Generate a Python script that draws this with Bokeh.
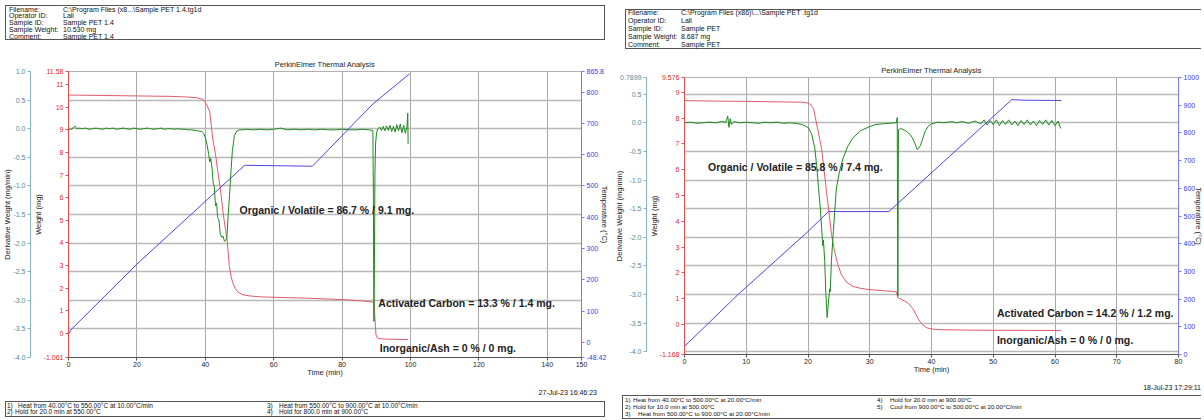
from bokeh.plotting import figure
from bokeh.models import Range1d, LinearAxis, FixedTicker, Grid, Label, Div
from bokeh.layouts import row, column
from bokeh.embed import file_html
from bokeh.resources import INLINE

# ---------------- LEFT RUN : Sample PET 1.4 ----------------
L_w_time = [0, 10, 20, 30, 35, 37.5, 39.3, 40.3, 41.3, 42.2, 43.0, 43.7, 44.4, 45.0, 45.5, 46.0, 46.4,
            47.0, 47.5, 48.0, 48.7, 49.6, 51, 53, 56, 60, 65, 70, 75, 80, 85, 88.5, 89.3, 89.6, 89.9,
            90.3, 91, 93, 96, 99.3]
L_w_mg = [10.54, 10.52, 10.50, 10.48, 10.45, 10.42, 10.35, 10.15, 9.80, 8.60, 7.90, 7.10, 6.40, 5.60,
          5.00, 4.50, 4.10, 3.00, 2.55, 2.25, 2.00, 1.82, 1.71, 1.66, 1.62, 1.60, 1.58, 1.56, 1.53,
          1.50, 1.45, 1.40, 1.37, 0.70, -0.05, -0.20, -0.23, -0.25, -0.26, -0.27]

L_d_time = [0, 0.5, 1.0, 1.5, 2.0, 2.4, 3.0, 4, 5, 6, 7, 8, 9, 10, 11, 12, 13, 14, 15, 16, 17, 18,
            19, 20, 21, 22, 23, 24, 25, 26, 27, 28, 29, 30, 31, 32, 33, 34, 35, 36, 37, 38, 39.0,
            39.5, 40.0, 40.5, 41.0, 41.3, 41.6, 42.0, 42.3, 42.6, 43.0, 43.3, 43.6, 44.0, 44.4, 44.8,
            45.2, 45.6, 46.0, 46.3, 46.7, 47.1, 47.5, 47.9, 48.5, 49.2, 50, 51, 52, 54, 56, 58, 60,
            62, 64, 66, 68, 70, 72, 74, 76, 78, 80, 82, 84, 86, 88, 89.0, 89.15, 89.3, 89.45, 89.6,
            89.8, 90.1, 90.5, 91, 91.5, 92, 92.5, 93, 93.5, 94, 94.5, 95, 95.5, 96, 96.5, 97, 97.5,
            98, 98.5, 99.0, 99.2, 99.3]
L_d_val = [-0.03, 0.00, -0.01, 0.03, 0.04, 0.00, 0.01, 0.00, 0.01, -0.01, 0.00, 0.01, 0.00, -0.01,
           0.01, 0.00, 0.01, -0.01, 0.00, 0.01, 0.00, -0.01, 0.01, 0.00, -0.01, 0.00, 0.01, 0.00,
           -0.01, 0.00, 0.01, -0.01, 0.00, 0.00, -0.01, 0.00, -0.01, -0.01, -0.02, -0.02, -0.03,
           -0.04, -0.05, -0.08, -0.15, -0.28, -0.45, -0.58, -0.52, -0.70, -0.95, -1.00, -1.35, -1.30,
           -1.55, -1.60, -1.85, -1.90, -1.88, -1.97, -1.95, -1.90, -1.50, -1.15, -0.75, -0.40, -0.12,
           -0.04, -0.02, -0.02, -0.01, -0.02, -0.01, -0.02, -0.01, 0.01, -0.02, -0.01, -0.02, -0.01,
           -0.02, -0.01, -0.02, -0.02, -0.01, -0.02, -0.02, -0.01, -0.02, -0.03, -1.20, -3.37, -2.40,
           -0.80, -0.25, -0.06, 0.00, 0.03, -0.03, 0.04, -0.04, 0.05, -0.03, 0.06, -0.05, 0.04, -0.06,
           0.07, -0.04, 0.08, -0.07, 0.06, -0.08, 0.05, 0.27, -0.27]

L_t_time = [0, 0.7, 20, 51.5, 71.3, 89, 99.7]
L_t_degC = [26, 40, 250, 566, 563, 762, 858]

L_x_ticks = [0, 20, 40, 60, 80, 100, 120, 140, 150]
L_w_ticks = [-1.061, 0, 1, 2, 3, 4, 5, 6, 7, 8, 9, 10, 11, 11.58]
L_w_labels = ["-1.061", "0", "1", "2", "3", "4", "5", "6", "7", "8", "9", "10", "11", "11.58"]
L_d_ticks = [-4.0, -3.5, -3.0, -2.5, -2.0, -1.5, -1.0, -0.5, 0.0, 0.5, 1.0]
L_d_labels = ["-4.0", "-3.5", "-3.0", "-2.5", "-2.0", "-1.5", "-1.0", "-0.5", "0.0", "0.5", "1.0"]
L_T_ticks = [-48.42, 0, 100, 200, 300, 400, 500, 600, 700, 800, 865.8]
L_T_labels = ["-48.42", "0", "100", "200", "300", "400", "500", "600", "700", "800", "865.8"]
L_notes = ["Organic / Volatile = 86.7 % / 9.1 mg.", "Activated Carbon = 13.3 % / 1.4 mg.",
           "Inorganic/Ash = 0 % / 0 mg."]
L_header = [("Filename:", "C:\\Program Files (x8...\\Sample PET 1.4.tg1d"), ("Operator ID:", "Lali"),
            ("Sample ID:", "Sample PET 1.4"), ("Sample Weight:", "10.530 mg"), ("Comment:", "Sample PET 1.4")]
L_date = "27-Jul-23 16:46:23"
L_steps = [("1)", "Heat from 40.00°C to 550.00°C at 10.00°C/min"), ("2)", "Hold for 20.0 min at 550.00°C"),
           ("3)", "Heat from 550.00°C to 900.00°C at 10.00°C/min"), ("4)", "Hold for 800.0 min at 900.00°C")]

# ---------------- RIGHT RUN : Sample PET ----------------
R_w_time = [0, 5, 10, 15, 19, 20.1, 20.5, 20.9, 22.2, 23.0, 23.8, 24.3, 24.8, 25.4, 26.2, 27.3, 28.5,
            29.9, 32, 34.3, 34.55, 35.3, 36.3, 37.0, 37.5, 37.9, 38.5, 39.3, 40.6, 45, 50, 55, 61]
R_w_mg = [8.68, 8.66, 8.65, 8.63, 8.62, 8.58, 8.50, 8.37, 6.82, 5.15, 3.50, 2.83, 2.35, 1.93, 1.65,
          1.47, 1.40, 1.35, 1.31, 1.27, 1.04, 0.95, 0.81, 0.60, 0.38, 0.19, 0.00, -0.14, -0.20, -0.22,
          -0.23, -0.23, -0.24]

R_d_time = [0, 1, 2, 3, 4, 5, 6, 6.7, 7.0, 7.2, 7.4, 7.6, 8, 9, 10, 11, 12, 13, 14, 15, 16, 17, 18,
            19, 19.6, 20.1, 20.6, 21.1, 21.4, 21.7, 22.0, 22.2, 22.4, 22.5, 22.7, 22.9, 23.1, 23.3,
            23.5, 23.6, 23.8, 24.1, 24.6, 25.1, 25.7, 26.5, 27.3, 28.5, 29.9, 31, 32, 33, 34.3, 34.45,
            34.55, 34.65, 35.0, 35.8, 36.5, 36.9, 37.3, 37.7, 38.2, 38.6, 39.0, 39.5, 40.0, 41, 42,
            43.3, 44, 45, 46, 47, 48, 48.5, 49, 49.5, 50, 50.5, 51, 51.5, 52, 52.5, 53, 53.5, 54, 54.5,
            55, 55.5, 56, 56.5, 57, 57.5, 58, 58.5, 59, 59.5, 60, 60.5, 60.9]
R_d_val = [0.00, 0.01, -0.01, 0.00, 0.01, 0.00, 0.02, 0.01, 0.12, -0.08, 0.07, -0.03, 0.02, 0.00,
           0.01, 0.00, -0.01, 0.01, 0.00, 0.01, -0.01, 0.00, -0.01, -0.03, -0.06, -0.09, -0.20, -0.44,
           -0.75, -1.13, -1.50, -1.83, -2.15, -2.05, -2.40, -3.00, -3.40, -3.15, -2.90, -2.95, -2.40,
           -1.90, -1.14, -0.85, -0.61, -0.40, -0.26, -0.14, -0.07, -0.03, -0.02, -0.01, 0.00, 0.09,
           -3.03, -0.12, -0.10, -0.14, -0.20, -0.26, -0.36, -0.47, -0.40, -0.27, -0.14, -0.06, -0.02,
           0.01, 0.00, 0.02, 0.00, 0.02, -0.01, 0.03, -0.02, 0.05, -0.04, 0.04, -0.03, 0.05, -0.05,
           0.04, -0.03, 0.05, -0.04, 0.03, -0.05, 0.04, -0.03, 0.05, -0.04, 0.03, -0.05, 0.04, -0.03,
           0.05, -0.04, 0.04, -0.05, 0.03, -0.10]

R_t_time = [0, 0.6, 8.6, 20, 23.3, 33.1, 53, 55, 61]
R_t_degC = [30, 42, 215, 444, 516, 516, 920, 918, 917]

R_x_ticks = [0, 10, 20, 30, 40, 50, 60, 70, 80]
R_w_ticks = [-1.168, 0, 1, 2, 3, 4, 5, 6, 7, 8, 9, 9.576]
R_w_labels = ["-1.168", "0", "1", "2", "3", "4", "5", "6", "7", "8", "9", "9.576"]
R_d_ticks = [-4.0, -3.5, -3.0, -2.5, -2.0, -1.5, -1.0, -0.5, 0.0, 0.5, 0.7899]
R_d_labels = ["-4.0", "-3.5", "-3.0", "-2.5", "-2.0", "-1.5", "-1.0", "-0.5", "0.0", "0.5", "0.7899"]
R_T_ticks = [0, 100, 200, 300, 400, 500, 600, 700, 800, 900, 1000]
R_T_labels = ["0", "100", "200", "300", "400", "500", "600", "700", "800", "900", "1000"]
R_notes = ["Organic / Volatile = 85.8 % / 7.4 mg.", "Activated Carbon = 14.2 % / 1.2 mg.",
           "Inorganic/Ash = 0 % / 0 mg."]
R_header = [("Filename:", "C:\\Program Files (x86)\\...\\Sample PET .tg1d"), ("Operator ID:", "Lali"),
            ("Sample ID:", "Sample PET"), ("Sample Weight:", "8.687 mg"), ("Comment:", "Sample PET")]
R_date = "18-Jul-23 17:29:11"
R_steps = [("1)", "Heat from 40.00°C to 500.00°C at 20.00°C/min"), ("2)", "Hold for 10.0 min at 500.00°C"),
           ("3)", "Heat from 500.00°C to 900.00°C at 20.00°C/min"), ("4)", "Hold for 20.0 min at 900.00°C"),
           ("5)", "Cool from 900.00°C to 500.00°C at 20.00°C/min")]

# ---------------- styling ----------------
FONT = "Liberation Sans"
CSSFONT = "'Liberation Sans', Arial, sans-serif"
C_W, C_WA = "#e05a68", "#e02828"
C_D, C_DA, C_DL = "#1e8a1e", "#86b4ba", "#4f8c95"
C_T, C_TA, C_TL = "#4f46e0", "#7a7af0", "#3a3ae8"
HOST = {"font-size": "0px", "line-height": "0px"}


def style_axis(ax, ticks, labels, line_c, lab_c, title, label_standoff, tick_standoff=2):
    ax.ticker = FixedTicker(ticks=ticks)
    ax.major_label_overrides = {t: l for t, l in zip(ticks, labels)}
    ax.axis_line_color = line_c
    ax.major_tick_line_color = line_c
    ax.minor_tick_line_color = None
    ax.major_tick_in = 0
    ax.major_tick_out = 3
    ax.major_label_standoff = tick_standoff
    ax.major_label_text_color = lab_c
    ax.major_label_text_font = FONT
    ax.major_label_text_font_size = "7px"
    ax.axis_label = title
    ax.axis_label_text_font = FONT
    ax.axis_label_text_font_size = "7.5px"
    ax.axis_label_text_font_style = "normal"
    ax.axis_label_text_color = "#222222"
    ax.axis_label_standoff = label_standoff


def panel(xr, x_ticks, w_ticks, w_labels, d_range, d_ticks, d_labels, T_range, T_ticks, T_labels,
          wt, wv, dt, dv, tt, tv, notes, note_pos, fw, fh, mbl, mbr, mbt, mbb, so_w, so_d, so_t):
    p = figure(frame_width=fw, frame_height=fh, x_range=Range1d(*xr),
               y_range=Range1d(w_ticks[0], w_ticks[-1]),
               output_backend="svg", toolbar_location=None,
               min_border_left=mbl, min_border_right=mbr, min_border_top=mbt, min_border_bottom=mbb,
               title="PerkinElmer Thermal Analysis")
    p.title.align = "center"
    p.title.text_font = FONT
    p.title.text_font_size = "7.5px"
    p.title.text_font_style = "normal"
    p.title.text_color = "#222222"
    p.title.standoff = 6
    p.outline_line_color = "#b0b0b0"
    p.extra_y_ranges = {"deriv": Range1d(*d_range), "temp": Range1d(*T_range)}

    style_axis(p.xaxis[0], x_ticks, [str(v) for v in x_ticks], "#555555", "#222222", "Time (min)", -2, 1)
    style_axis(p.yaxis[0], w_ticks, w_labels, "#e05050", C_WA, "Weight (mg)", so_w)

    dax = LinearAxis(y_range_name="deriv")
    style_axis(dax, d_ticks, d_labels, C_DA, C_DL, "Derivative Weight (mg/min)", so_d)
    dax.bounds = (d_ticks[0], d_ticks[-1])
    p.add_layout(dax, "left")

    tax = LinearAxis(y_range_name="temp")
    style_axis(tax, T_ticks, T_labels, C_TA, C_TL, "Temperature (°C)", so_t)
    p.add_layout(tax, "right")

    p.ygrid.visible = False
    p.xgrid.grid_line_color = "#a8a8a8"
    p.xgrid.grid_line_width = 1
    hg = Grid(dimension=1, ticker=FixedTicker(ticks=d_ticks), y_range_name="deriv",
              grid_line_color="#b8b8b8", grid_line_width=1.3)
    p.add_layout(hg)

    p.line(wt, wv, line_color=C_W, line_width=1)
    p.line(dt, dv, line_color=C_D, line_width=1, y_range_name="deriv")
    p.line(tt, tv, line_color=C_T, line_width=1, y_range_name="temp")

    for txt, (x, y) in zip(notes, note_pos):
        p.add_layout(Label(x=x, y=y, text=txt, text_font=FONT, text_font_size="10.5px",
                           text_font_style="bold", text_color="#222222", text_baseline="middle"))
    return p


def span(t, x, y, fs, anchor="left"):
    return (f'<span style="position:absolute;{anchor}:{x}px;top:{y}px;font-size:{fs}px;'
            f'line-height:{fs}px;">{t}</span>')


def block_div(width, height, boxes, spans):
    """boxes: (left, top, w, h, right_border); spans: html strings"""
    parts = []
    for (bl, bt, bw, bh, rb) in boxes:
        rbs = "1px solid #555" if rb else "none"
        parts.append(f'<div style="position:absolute;left:{bl}px;top:{bt}px;width:{bw}px;height:{bh}px;'
                     f'box-sizing:border-box;border:1px solid #555;border-right:{rbs};"></div>')
    html = (f'<div style="position:relative;display:block;margin:0;padding:0;width:{width}px;height:{height}px;'
            f'overflow:hidden;font-family:{CSSFONT};color:#111;white-space:pre;">'
            + "".join(parts) + "".join(spans) + '</div>')
    return Div(text=html, width=width, height=height, styles=HOST)


# ---------------- left column ----------------
pL = panel((0, 150), L_x_ticks, L_w_ticks, L_w_labels, (-4.0, 1.0), L_d_ticks, L_d_labels,
           (-48.42, 865.8), L_T_ticks, L_T_labels, L_w_time, L_w_mg, L_d_time, L_d_val,
           L_t_time, L_t_degC, L_notes, [(50.0, 5.44), (90.6, 1.33), (91.0, -0.66)],
           fw=513, fh=286, mbl=58, mbr=20, mbt=26, mbb=25, so_w=-2, so_d=-2, so_t=-9)
hL_sp = []
for i, (k, v) in enumerate(L_header):
    hL_sp += [span(k, 4, 0.5 + 6.8 * i, 7), span(v, 58, 0.5 + 6.8 * i, 7)]
hL = block_div(600, 35, [(0, 0, 600, 35, True)], hL_sp)
bL_sp = [span(L_date, 8, 2, 7, "right"),
         span("1)", 2, 15.5, 6.5), span(L_steps[0][1], 13, 15.5, 6.5),
         span("2)", 2, 22, 6.5), span(L_steps[1][1], 10, 22, 6.5),
         span("3)", 262, 15.5, 6.5), span(L_steps[2][1], 274, 15.5, 6.5),
         span("4)", 262, 22, 6.5), span(L_steps[3][1], 274, 22, 6.5)]
bL = block_div(600, 31, [(0, 13.5, 600, 16.5, True)], bL_sp)
colL = column(hL, pL, bL, spacing=0)

# ---------------- right column ----------------
pR = panel((0, 80), R_x_ticks, R_w_ticks, R_w_labels, (-4.045, 0.7899), R_d_ticks, R_d_labels,
           (0, 1000), R_T_ticks, R_T_labels, R_w_time, R_w_mg, R_d_time, R_d_val,
           R_t_time, R_t_degC, R_notes, [(3.8, 6.12), (50.6, 0.46), (50.6, -0.62)],
           fw=494, fh=277, mbl=65, mbr=10, mbt=23, mbb=25, so_w=-2, so_d=-7, so_t=-8)
hR_sp = []
for i, (k, v) in enumerate(R_header):
    hR_sp += [span(k, 11, 4 + 8 * i, 7), span(v, 64, 4 + 8 * i, 7)]
hR = block_div(584, 44, [(8, 3.5, 576, 40.5, False)], hR_sp)
bR_sp = [span(R_date, 0, 0, 7, "right"),
         span("1)", 8, 12.5, 6.2), span(R_steps[0][1], 16, 12.5, 6.2),
         span("2)", 8, 19.5, 6.2), span(R_steps[1][1], 16, 19.5, 6.2),
         span("3)", 8, 26.5, 6.2), span(R_steps[2][1], 21, 26.5, 6.2),
         span("4)", 260, 12.5, 6.2), span(R_steps[3][1], 273, 12.5, 6.2),
         span("5)", 260, 19.5, 6.2), span(R_steps[4][1], 273, 19.5, 6.2)]
bR = block_div(584, 35, [(5, 10.5, 579, 24.5, False)], bR_sp)
colR = column(hR, pR, bR, spacing=0)

layout = row(colL, colR, spacing=0)
open("out.html", "w").write(file_html(layout, INLINE))
